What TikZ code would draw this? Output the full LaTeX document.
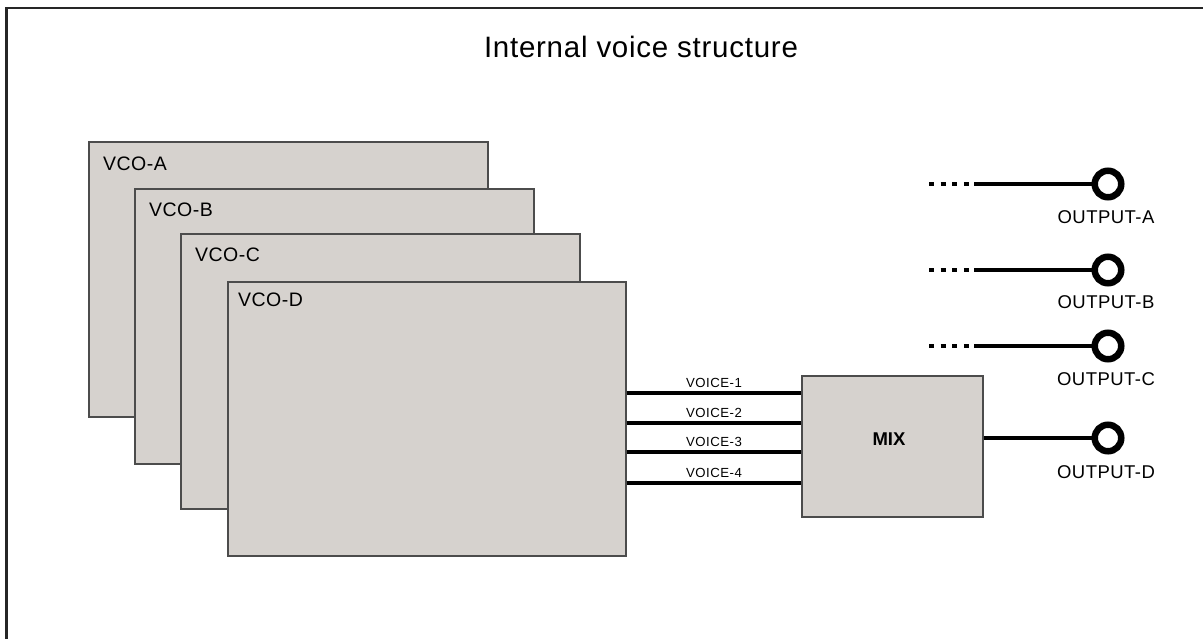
\documentclass[tikz,border=0pt]{standalone}
\usepackage{fontspec}
\setmainfont{Liberation Sans}
\newfontfamily\titlefont{Liberation Sans}[LetterSpace=2.5]
\newfontfamily\labfont{Liberation Sans}[LetterSpace=2.5]
\newfontfamily\smallfont{Liberation Sans}[LetterSpace=4]
\newfontfamily\mixfont{Liberation Sans}
\begin{document}
\begin{tikzpicture}[x=1pt,y=-1pt,
  frame/.style={draw=black!85,line width=2.5pt},
  vco/.style={draw=black!70,line width=1.5pt,fill=boxgray,anchor=north west,inner sep=0pt},
  lab/.style={font=\labfont\fontsize{19.5}{23}\selectfont,anchor=base west,inner sep=0pt},
  vlab/.style={font=\smallfont\fontsize{13.2}{16}\selectfont,anchor=base,inner sep=0pt},
  olab/.style={font=\labfont\fontsize{18.5}{22}\selectfont,anchor=base,inner sep=0pt},
  wire/.style={line width=4pt,black},
  dotwire/.style={line width=4pt,black,dash pattern=on 5pt off 6.6pt},
  jack/.style={circle,draw=black,line width=6.5pt,fill=white,minimum size=26.5pt,inner sep=0pt}
]
\definecolor{boxgray}{HTML}{D6D2CE}
\clip (0,0) rectangle (1203,638);
\fill[white] (0,0) rectangle (1203,638);
\draw[frame] (6.5,8) rectangle (1240,720);

\node[font=\titlefont\fontsize{29.5}{35}\selectfont,anchor=base,inner sep=0pt] (title) at (641,57.5) {Internal voice structure};

\node[vco,minimum width=399pt,minimum height=275pt] (vcoA) at (88,141) {};
\node[lab] (labA) at (103,170) {VCO-A};
\node[vco,minimum width=399pt,minimum height=275pt] (vcoB) at (134,188) {};
\node[lab] (labB) at (149,216) {VCO-B};
\node[vco,minimum width=399pt,minimum height=275pt] (vcoC) at (180,233) {};
\node[lab] (labC) at (195,261) {VCO-C};
\node[vco,minimum width=398pt,minimum height=274pt] (vcoD) at (227,281) {};
\node[lab] (labD) at (238,306) {VCO-D};

\node[vco,minimum width=181pt,minimum height=141pt] (mix) at (801,375) {};
\node[font=\mixfont\bfseries\fontsize{18.5}{22}\selectfont,anchor=base,inner sep=0pt] (mixlab) at (889,445) {MIX};

\foreach \y/\n in {393/1,423/2,452/3,483/4}{
  \draw[wire] (vcoD.east |- 0,\y) -- (mix.west |- 0,\y);
  \node[vlab] (voice\n) at (714,\y-5.5) {VOICE-\n};
}

\node[jack] (oA) at (1108,184) {};
\node[jack] (oB) at (1108,270) {};
\node[jack] (oC) at (1108,346) {};
\node[jack] (oD) at (1108,438) {};

\foreach \o/\y in {A/184,B/270,C/346}{
  \coordinate (s\o) at (929,\y);
  \coordinate (m\o) at (969,\y);
  \coordinate (n\o) at (974,\y);
  \draw[dotwire] (s\o) -- (m\o);
  \draw[wire] (n\o) -- (o\o.west);
}
\draw[wire] (mix.east |- oD) -- (oD.west);

\node[olab] (tA) at (1106,223) {OUTPUT-A};
\node[olab] (tB) at (1106,308) {OUTPUT-B};
\node[olab] (tC) at (1106,385) {OUTPUT-C};
\node[olab] (tD) at (1106,478) {OUTPUT-D};
\end{tikzpicture}
\end{document}
